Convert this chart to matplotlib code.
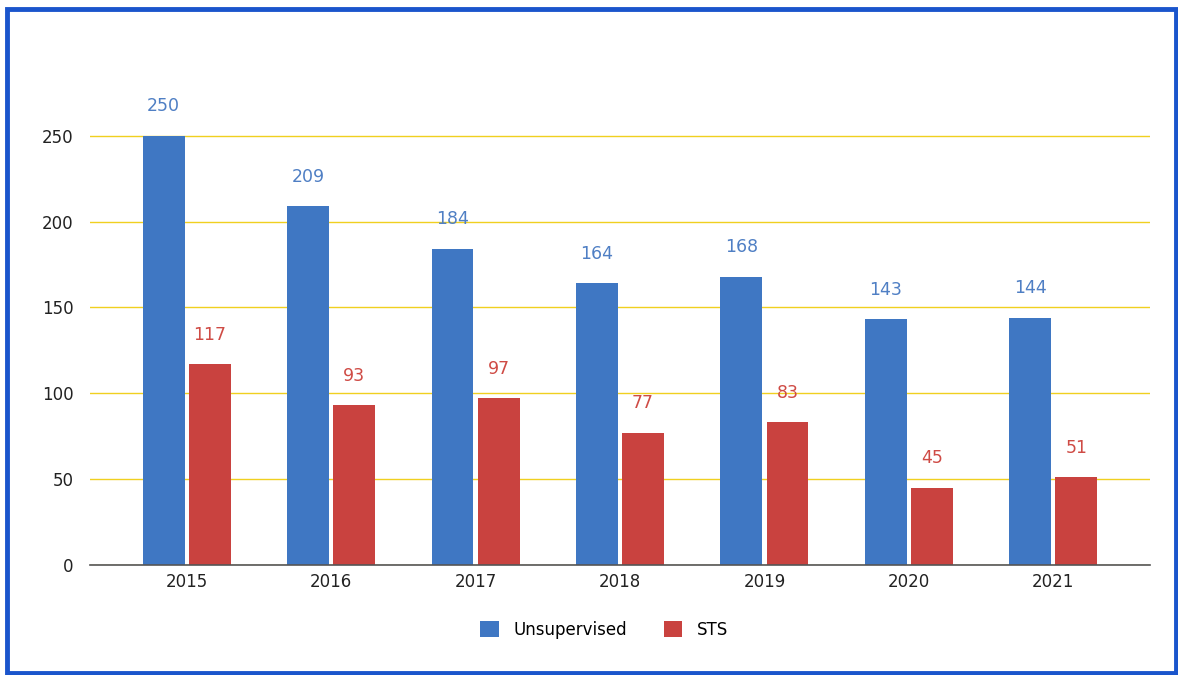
import matplotlib.pyplot as plt
import numpy as np
from matplotlib.patches import Rectangle

# data
years = ['2015', '2016', '2017', '2018', '2019', '2020', '2021']
unsupervised = [250, 209, 184, 164, 168, 143, 144]
sts = [117, 93, 97, 77, 83, 45, 51]

blue = '#3f77c3'
red = '#c9423f'

fig = plt.figure(figsize=(11.78, 6.75), dpi=100)
ax = fig.add_axes([0.0764, 0.163, 0.8998, 0.763])

x = np.arange(len(years))
w = 0.29
off = 0.16
b1 = ax.bar(x - off, unsupervised, w, color=blue, label='Unsupervised', zorder=3)
b2 = ax.bar(x + off, sts, w, color=red, label='STS', zorder=3)

# value labels above bars
for xi, v in zip(x, unsupervised):
    ax.text(xi - off, v + 12, str(v), ha='center', va='bottom', color='#4f7fc4', fontsize=12.5)
for xi, v in zip(x, sts):
    ax.text(xi + off, v + 12, str(v), ha='center', va='bottom', color='#cf4b45', fontsize=12.5)

ax.set_xlim(-0.67, 6.67)
ax.set_ylim(0, 300)
ax.set_yticks([0, 50, 100, 150, 200, 250])
ax.set_xticks(x)
ax.set_xticklabels(years)
ax.tick_params(axis='both', length=0, labelsize=12, colors='#222222')
ax.tick_params(axis='y', pad=12)
ax.tick_params(axis='x', pad=6)
ax.yaxis.grid(True, color='#f0d020', linewidth=1, zorder=0)
for s in ['top', 'right', 'left']:
    ax.spines[s].set_visible(False)
ax.spines['bottom'].set_color('#555555')
ax.spines['bottom'].set_linewidth(1.2)
ax.spines['bottom'].set_zorder(4)

fig.legend(handles=[b1, b2], loc='center', bbox_to_anchor=(0.513, 0.067), ncol=2,
           frameon=False, fontsize=12, handlelength=1.1, handleheight=1.1,
           columnspacing=2.2, handletextpad=0.9)

# blue frame round the figure
fig.patches.append(Rectangle((0.006, 0.003), 0.992, 0.984, transform=fig.transFigure,
                             fill=False, edgecolor='#1a55cc', linewidth=3.5))

plt.savefig('out.png', dpi=100)
